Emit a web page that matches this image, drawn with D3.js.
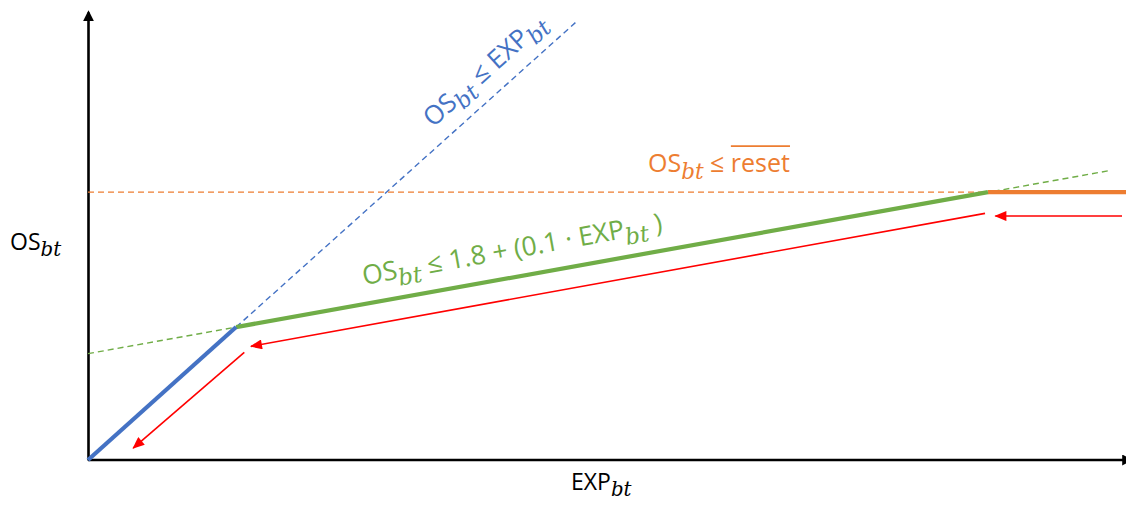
<!DOCTYPE html>
<html>
<head>
<meta charset="utf-8">
<script src="https://cdn.jsdelivr.net/npm/d3@7"></script>
<style>
  html, body { margin: 0; padding: 0; background: #fff; }
  svg { display: block; }
  .lbl { font-family: "Open Sans", Lato, sans-serif; }
  .sub { font-family: "DejaVu Serif", "Liberation Serif", serif; font-style: italic; }
</style>
</head>
<body>
<svg id="chart"></svg>
<script>
// conceptual units (no ticks on the axes)
const xMax = 14, yMax = 6.74;
const resetLevel = 4.03;

const blueSolid = [{x: 0, y: 0}, {x: 2, y: 2}];
const blueDashed = [{x: 2, y: 2}, {x: 6.58, y: 6.58}];
const greenSolid = [{x: 2, y: 2}, {x: 12.15, y: 4.03}];
const greenDashed = [{x: 0, y: 1.6}, {x: 13.82, y: 4.36}];
const orangeDashed = [{x: 0, y: 4.03}, {x: 12.15, y: 4.03}];
const orangeSolid = [{x: 12.15, y: 4.03}, {x: 14.1, y: 4.03}];

// red arrows: from -> to
const redArrows = [
  {from: {x: 13.96, y: 3.67}, to: {x: 12.25, y: 3.67}},
  {from: {x: 12.11, y: 3.71}, to: {x: 2.20, y: 1.71}},
  {from: {x: 2.11, y: 1.62}, to: {x: 0.61, y: 0.18}}
];

const WIDTH = 1126, HEIGHT = 506;
const x = d3.scaleLinear().domain([0, xMax]).range([88, 1125]);
const y = d3.scaleLinear().domain([0, yMax]).range([460, 12]);

const svg = d3.select('#chart')
  .attr('width', WIDTH)
  .attr('height', HEIGHT)
  .attr('viewBox', [0, 0, WIDTH, HEIGHT]);

const defs = svg.append('defs');
defs.append('marker')
  .attr('id', 'axisHead')
  .attr('markerUnits', 'userSpaceOnUse')
  .attr('viewBox', '0 0 10 10')
  .attr('refX', 8).attr('refY', 5)
  .attr('markerWidth', 11).attr('markerHeight', 11)
  .attr('orient', 'auto')
  .append('path').attr('d', 'M0,0L10,5L0,10z').attr('fill', '#000');
defs.append('marker')
  .attr('id', 'redHead')
  .attr('markerUnits', 'userSpaceOnUse')
  .attr('viewBox', '0 0 12 10')
  .attr('refX', 11).attr('refY', 5)
  .attr('markerWidth', 13).attr('markerHeight', 10)
  .attr('orient', 'auto')
  .append('path').attr('d', 'M0,0L12,5L0,10z').attr('fill', '#ff0000');

const line = d3.line().x(d => x(d.x)).y(d => y(d.y));

// axes without ticks, with arrow heads
const xAxis = svg.append('g')
  .attr('transform', `translate(0,${y(0)})`)
  .call(d3.axisBottom(x).tickValues([]).tickSizeOuter(0));
const yAxis = svg.append('g')
  .attr('transform', `translate(${x(0)},0)`)
  .call(d3.axisLeft(y).tickValues([]).tickSizeOuter(0));
xAxis.select('.domain').attr('stroke', '#000').attr('stroke-width', 2.6).attr('marker-end', 'url(#axisHead)');
yAxis.select('.domain').attr('stroke', '#000').attr('stroke-width', 2.6).attr('marker-end', 'url(#axisHead)');
// extend x axis slightly past the right edge (it is clipped in the original)
xAxis.select('.domain').attr('d', `M${x(0)},0H${x(xMax) + 6}`);

const dashed = [
  {pts: blueDashed, color: '#4472c4'},
  {pts: greenDashed, color: '#70ad47'},
  {pts: orangeDashed, color: '#ed7d31'}
];
svg.selectAll('.dash')
  .data(dashed)
  .enter().append('path')
  .attr('class', 'dash')
  .attr('d', d => line(d.pts))
  .attr('fill', 'none')
  .attr('stroke', d => d.color)
  .attr('stroke-width', 1.4)
  .attr('stroke-dasharray', '6,4');

const solid = [
  {pts: orangeSolid, color: '#ed7d31'},
  {pts: greenSolid, color: '#70ad47'},
  {pts: blueSolid, color: '#4472c4'}
];
svg.selectAll('.solid')
  .data(solid)
  .enter().append('path')
  .attr('class', 'solid')
  .attr('d', d => line(d.pts))
  .attr('fill', 'none')
  .attr('stroke', d => d.color)
  .attr('stroke-width', 4.2);

svg.selectAll('.red')
  .data(redArrows)
  .enter().append('line')
  .attr('class', 'red')
  .attr('x1', d => x(d.from.x)).attr('y1', d => y(d.from.y))
  .attr('x2', d => x(d.to.x)).attr('y2', d => y(d.to.y))
  .attr('stroke', '#ff0000')
  .attr('stroke-width', 1.6)
  .attr('marker-end', 'url(#redHead)');

// rich text with italic serif subscripts
function rich(g, parts, size, color) {
  const t = g.append('text')
    .attr('class', 'lbl')
    .attr('font-size', size)
    .attr('fill', color);
  const shift = Math.round(size * 0.28);
  let down = false;
  parts.forEach(p => {
    const ts = t.append('tspan').text(p.t);
    if (p.sub) {
      ts.attr('class', 'sub').attr('font-size', size * 0.86).attr('dy', down ? 0 : shift);
      down = true;
    } else {
      ts.attr('dy', down ? -shift : 0);
      down = false;
    }
  });
  return t;
}
function angleOf(pts) {
  const a = pts[0], b = pts[pts.length - 1];
  return Math.atan2(y(b.y) - y(a.y), x(b.x) - x(a.x)) * 180 / Math.PI;
}

// blue label along the dashed identity line
rich(svg.append('g').attr('transform', `translate(433,128) rotate(${angleOf(blueDashed)})`),
  [{t: 'OS'}, {t: 'bt', sub: true}, {t: ' ≤ EXP'}, {t: 'bt', sub: true}], 26, '#4472c4');

// green label along the solid green line
rich(svg.append('g').attr('transform', `translate(364,285) rotate(${angleOf(greenSolid)})`),
  [{t: 'OS'}, {t: 'bt', sub: true}, {t: ' ≤ 1.8 + (0.1 · EXP'}, {t: 'bt', sub: true}, {t: ' )'}], 26.5, '#70ad47');

// orange label with overline on "reset"
const og = svg.append('g').attr('transform', `translate(648,${y(resetLevel) - 20})`);
const ot = rich(og, [{t: 'OS'}, {t: 'bt', sub: true}, {t: ' ≤ '}, {t: 'reset'}], 25, '#ed7d31');
const resetSpan = ot.selectAll('tspan').nodes()[3];
const rs = resetSpan.getStartPositionOfChar(0);
const re = resetSpan.getEndPositionOfChar(4);
og.append('line')
  .attr('x1', rs.x).attr('x2', re.x)
  .attr('y1', -26).attr('y2', -26)
  .attr('stroke', '#ed7d31').attr('stroke-width', 1.6);

// axis titles
rich(svg.append('g').attr('transform', 'translate(10,250)'),
  [{t: 'OS'}, {t: 'bt', sub: true}], 23, '#000');
rich(svg.append('g').attr('transform', 'translate(571,490)'),
  [{t: 'EXP'}, {t: 'bt', sub: true}], 23, '#000');
</script>
</body>
</html>
